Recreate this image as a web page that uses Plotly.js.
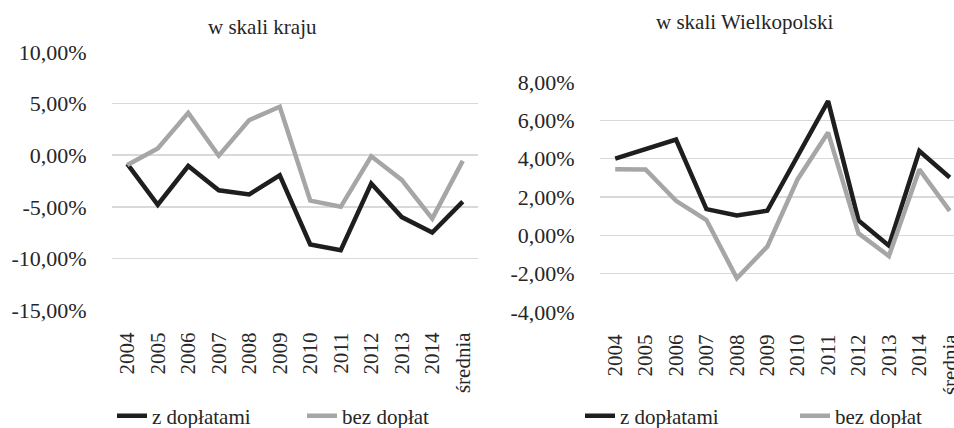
<!DOCTYPE html>
<html>
<head>
<meta charset="utf-8">
<script src="https://cdn.plot.ly/plotly-3.0.1.min.js"></script>
<style>html,body{margin:0;padding:0;background:#fff;overflow:hidden}#chart{width:954px;height:428px}</style>
</head>
<body>
<div id="chart"></div>
<script>
const categories = ["2004","2005","2006","2007","2008","2009","2010","2011","2012","2013","2014","średnia"];
const seriesNames = ["z dopłatami", "bez dopłat"];
const titles = ["w skali kraju", "w skali Wielkopolski"];

// w skali kraju (%)
const krajZ = [-0.85, -4.8, -1.05, -3.4, -3.8, -1.95, -8.65, -9.2, -2.75, -6.0, -7.5, -4.5];
const krajBez = [-0.95, 0.65, 4.1, -0.05, 3.4, 4.7, -4.4, -5.0, -0.1, -2.4, -6.15, -0.55];

// w skali Wielkopolski (%)
const wlkpZ = [4.0, 4.5, 5.0, 1.37, 1.04, 1.28, 4.18, 7.0, 0.78, -0.54, 4.4, 3.02];
const wlkpBez = [3.45, 3.44, 1.8, 0.8, -2.24, -0.59, 2.93, 5.36, 0.1, -1.08, 3.44, 1.28];

const leftTicks = [10, 5, 0, -5, -10, -15];
const rightTicks = [8, 6, 4, 2, 0, -2, -4];
const fmt = v => v.toFixed(2).replace('.', ',') + '%';

const W = 954, H = 428;
const BLACK = '#1e1e1e', GRAY = '#a6a6a6';
const FONT = 'Liberation Serif';
const TXT = '#262626';

function tr(y, name, color, xa, ya, leg) {
  return {x: categories, y: y, name: name, type: 'scatter', mode: 'lines',
    line: {color: color, width: 4.5, shape: 'linear'},
    xaxis: xa, yaxis: ya, legend: leg, hoverinfo: 'x+y'};
}

const data = [
  tr(krajZ, seriesNames[0], BLACK, 'x', 'y', 'legend'),
  tr(krajBez, seriesNames[1], GRAY, 'x', 'y', 'legend'),
  tr(wlkpZ, seriesNames[0], BLACK, 'x2', 'y2', 'legend2'),
  tr(wlkpBez, seriesNames[1], GRAY, 'x2', 'y2', 'legend2')
];

const xCommon = {type: 'category', showgrid: false, zeroline: false, showline: false, automargin: false,
  tickangle: -90, ticks: 'outside', ticklen: 13, tickcolor: 'rgba(0,0,0,0)',
  tickfont: {family: FONT, size: 21, color: TXT}, fixedrange: true};
const yCommon = {showgrid: true, gridcolor: '#d9d9d9', gridwidth: 1.5, zeroline: false, showline: false, automargin: false,
  ticks: 'outside', ticklen: 20, tickcolor: 'rgba(0,0,0,0)',
  tickfont: {family: FONT, size: 22, color: TXT}, fixedrange: true};

const layout = {
  width: W, height: H, autosize: false,
  margin: {l: 0, r: 0, t: 0, b: 0, autoexpand: false},
  paper_bgcolor: '#fff', plot_bgcolor: '#fff',
  font: {family: FONT, color: TXT},
  showlegend: true,
  xaxis: Object.assign({}, xCommon, {domain: [112/W, 478/W], range: [-0.5, 11.5], anchor: 'y'}),
  yaxis: Object.assign({}, yCommon, {domain: [1-310/H, 1-52/H], range: [-15, 10],
    tickvals: leftTicks, ticktext: leftTicks.map(fmt), anchor: 'x'}),
  xaxis2: Object.assign({}, xCommon, {domain: [600/W, 1], range: [-0.5, 11.14], anchor: 'y2'}),
  yaxis2: Object.assign({}, yCommon, {domain: [1-312/H, 1-82/H], range: [-4, 8],
    tickvals: rightTicks, ticktext: rightTicks.map(fmt), anchor: 'x2'}),
  legend: {orientation: 'h', x: 112/W, xanchor: 'left', y: 1-416/H, yanchor: 'middle',
    font: {family: FONT, size: 21, color: TXT}, bgcolor: 'rgba(0,0,0,0)',
    entrywidth: 145, tracegroupgap: 0},
  legend2: {orientation: 'h', x: 580/W, xanchor: 'left', y: 1-416/H, yanchor: 'middle',
    font: {family: FONT, size: 21, color: TXT}, bgcolor: 'rgba(0,0,0,0)',
    entrywidth: 170, tracegroupgap: 0},
  annotations: [
    {text: titles[0], xref: 'paper', yref: 'paper', x: 262/W, y: 1-27/H, xanchor: 'center', yanchor: 'middle',
      showarrow: false, font: {family: FONT, size: 21, color: TXT}},
    {text: titles[1], xref: 'paper', yref: 'paper', x: 744/W, y: 1-22/H, xanchor: 'center', yanchor: 'middle',
      showarrow: false, font: {family: FONT, size: 21, color: TXT}}
  ]
};

Plotly.newPlot('chart', data, layout, {displayModeBar: false, staticPlot: true});
</script>
</body>
</html>
